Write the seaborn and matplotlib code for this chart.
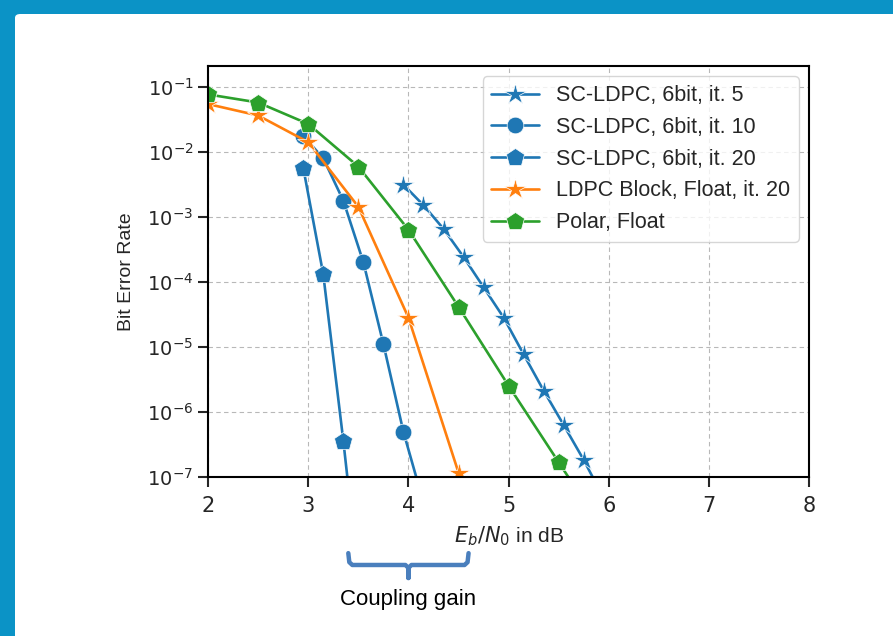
import numpy as np
import pandas as pd
import matplotlib
matplotlib.use("Agg")
import matplotlib.pyplot as plt
import matplotlib.transforms as mtransforms
from matplotlib.patches import FancyBboxPatch
import seaborn as sns

# values (Eb/N0 in dB, BER)
LABELS = [
    "SC-LDPC, 6bit, it. 5",
    "SC-LDPC, 6bit, it. 10",
    "SC-LDPC, 6bit, it. 20",
    "LDPC Block, Float, it. 20",
    "Polar, Float",
]

sc5_x = [3.95, 4.15, 4.35, 4.55, 4.75, 4.95, 5.15, 5.35, 5.55, 5.75, 5.95]
sc5_y = [3.1e-3, 1.5e-3, 6.5e-4, 2.4e-4, 8.2e-5, 2.8e-5, 7.6e-6, 2.1e-6, 6.2e-7, 1.8e-7, 4.6e-8]

sc10_x = [2.95, 3.15, 3.35, 3.55, 3.75, 3.95, 4.15]
sc10_y = [1.75e-2, 7.9e-3, 1.77e-3, 2.0e-4, 1.1e-5, 4.9e-7, 4.0e-8]

sc20_x = [2.95, 3.15, 3.35, 3.55]
sc20_y = [5.7e-3, 1.3e-4, 3.6e-7, 6.0e-10]

ldpc_x = [2.0, 2.5, 3.0, 3.5, 4.0, 4.5]
ldpc_y = [5.4e-2, 3.6e-2, 1.4e-2, 1.42e-3, 2.8e-5, 1.15e-7]

polar_x = [2.0, 2.5, 3.0, 3.5, 4.0, 4.5, 5.0, 5.5, 6.0]
polar_y = [7.6e-2, 5.7e-2, 2.67e-2, 5.9e-3, 6.3e-4, 4.1e-5, 2.5e-6, 1.66e-7, 1.1e-8]

XTICKS = [2, 3, 4, 5, 6, 7, 8]
YTICKS = [1e-7, 1e-6, 1e-5, 1e-4, 1e-3, 1e-2, 1e-1]

frames = []
for lab, xs, ys in zip(LABELS, [sc5_x, sc10_x, sc20_x, ldpc_x, polar_x],
                       [sc5_y, sc10_y, sc20_y, ldpc_y, polar_y]):
    frames.append(pd.DataFrame({"snr": xs, "ber": ys, "curve": lab}))
df = pd.concat(frames, ignore_index=True)

palette = {LABELS[0]: "#1f77b4", LABELS[1]: "#1f77b4", LABELS[2]: "#1f77b4",
           LABELS[3]: "#ff7f0e", LABELS[4]: "#2ca02c"}
markers = {LABELS[0]: "*", LABELS[1]: "o", LABELS[2]: "p",
           LABELS[3]: "*", LABELS[4]: "p"}
MARKER_SIZE = {"*": 16, "o": 12, "p": 13.5}

sns.set_style("ticks")
plt.rcParams["font.family"] = ["DejaVu Sans"]
plt.rcParams["axes.linewidth"] = 1.5

fig = plt.figure(figsize=(8.93, 6.36), dpi=100, facecolor="#0b93c6")
# white slide panel
fig.patches.append(FancyBboxPatch((15 / 893, -0.05), 1.1, 1.05 - 14 / 636,
                                  boxstyle="round,pad=0,rounding_size=0.006",
                                  transform=fig.transFigure, facecolor="white",
                                  edgecolor="none", zorder=-5))

ax = fig.add_axes([208 / 893, 1 - 476.7 / 636, (809.3 - 208) / 893, (476.7 - 65.7) / 636])

sns.lineplot(data=df, x="snr", y="ber", hue="curve", style="curve",
             hue_order=LABELS, style_order=LABELS, palette=palette,
             markers=markers, dashes=False, markersize=12, linewidth=1.9,
             markeredgewidth=0.5, ax=ax)

# stars/pentagons look small next to circles at the same size
for ln in ax.lines:
    if ln.get_marker() in MARKER_SIZE:
        ln.set_markersize(MARKER_SIZE[ln.get_marker()])

ax.set_yscale("log")
ax.set_xlim(2, 8)
ax.set_ylim(1e-7, 0.21)
ax.set_xticks(XTICKS)
ax.set_yticks(YTICKS)
ax.yaxis.set_minor_locator(matplotlib.ticker.NullLocator())
ax.tick_params(axis="both", which="major", length=7, width=1.5, direction="out")
ax.tick_params(axis="x", labelsize=15, pad=7)
ax.tick_params(axis="y", labelsize=14)
for sp in ax.spines.values():
    sp.set_visible(True)
    sp.set_color("black")
ax.grid(True, which="major", linestyle=(0, (4, 3)), color="#b8b8b8", linewidth=0.8)

ax.set_xlabel("$E_b/N_0$ in dB", family="Liberation Sans", fontsize=15, labelpad=6)
ax.set_ylabel("Bit Error Rate", family="Liberation Sans", fontsize=14, labelpad=9)

handles, _ = ax.get_legend_handles_labels()
for h in handles:
    if h.get_marker() in MARKER_SIZE:
        h.set_markersize(MARKER_SIZE[h.get_marker()])
leg = ax.legend(handles=handles, labels=LABELS, loc="upper right",
                prop={"family": "Liberation Sans", "size": 15.5},
                frameon=True, fancybox=True, framealpha=0.8, edgecolor="#cccccc",
                handlelength=2.2, borderaxespad=0.5)

# brace marking the coupling gain
trans = mtransforms.blended_transform_factory(ax.transData, ax.transAxes)
bx = [3.40, 3.41, 3.44, 3.97, 4.0, 4.0, 4.0, 4.03, 4.56, 4.59, 4.60]
by = [-0.186, -0.208, -0.2148, -0.2148, -0.222, -0.2465, -0.222, -0.2148, -0.2148, -0.208, -0.186]
ax.plot(bx, by, transform=trans, clip_on=False, color="#4a7fbd", linewidth=3.2,
        solid_capstyle="round", solid_joinstyle="round")
ax.text(4.0, -0.30, "Coupling gain", transform=trans, ha="center", va="center",
        family="Liberation Sans", fontsize=16, color="black")

fig.savefig("out.png", dpi=100, facecolor=fig.get_facecolor())
